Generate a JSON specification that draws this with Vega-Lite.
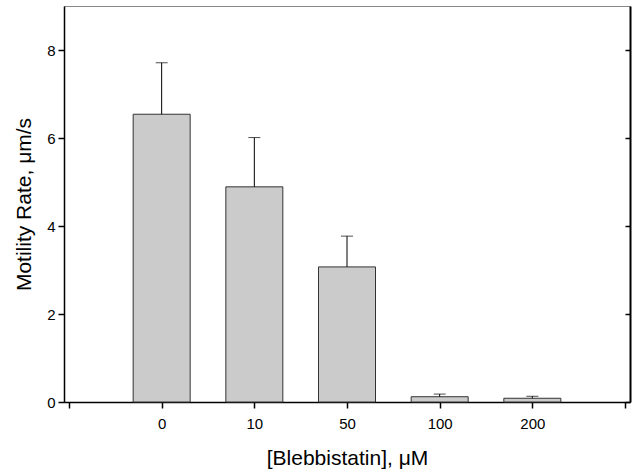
{
  "$schema": "https://vega.github.io/schema/vega-lite/v6.json",
  "width": 566,
  "height": 396,
  "autosize": "none",
  "padding": {"left": 64, "top": 6, "right": 5, "bottom": 73},
  "config": {
    "font": "Liberation Sans",
    "view": {"stroke": "#888", "strokeWidth": 1},
    "axis": {"grid": false, "domainColor": "#000", "tickColor": "#000", "labelColor": "#000", "titleColor": "#000", "labelFont": "Liberation Sans", "titleFont": "Liberation Sans", "titleFontWeight": "normal"}
  },
  "data": {
    "values": [
      {"pos": 0, "conc": "0", "rate": 6.54, "upper": 7.71},
      {"pos": 1, "conc": "10", "rate": 4.89, "upper": 6.01},
      {"pos": 2, "conc": "50", "rate": 3.07, "upper": 3.77},
      {"pos": 3, "conc": "100", "rate": 0.12, "upper": 0.18},
      {"pos": 4, "conc": "200", "rate": 0.085, "upper": 0.13}
    ]
  },
  "layer": [
    {
      "mark": {"type": "bar", "size": 57, "fill": "#cbcbcb", "stroke": "#333", "strokeWidth": 1},
      "encoding": {
        "x": {"field": "pos", "type": "quantitative", "scale": {"domain": [-1, 5], "nice": false, "zero": false},
          "axis": {"values": [-1, 0, 1, 2, 3, 4, 5], "labelExpr": "datum.value==0?'0':datum.value==1?'10':datum.value==2?'50':datum.value==3?'100':datum.value==4?'200':''", "title": "[Blebbistatin], μM", "labelFontSize": 15, "titleFontSize": 21, "tickSize": 6, "labelPadding": 8, "titlePadding": 16, "domainWidth": 1.5, "tickWidth": 1.5}},
        "y": {"field": "rate", "type": "quantitative", "scale": {"domain": [0, 9], "nice": false},
          "axis": {"values": [0, 2, 4, 6, 8], "title": "Motility Rate, μm/s", "labelFontSize": 15, "titleFontSize": 21, "tickSize": 6, "labelPadding": 3, "titlePadding": 12, "domainWidth": 1.5, "tickWidth": 1.5}}
      }
    },
    {
      "mark": {"type": "rule", "color": "#000", "strokeWidth": 1},
      "encoding": {
        "x": {"field": "pos", "type": "quantitative"},
        "y": {"field": "rate", "type": "quantitative", "axis": null},
        "y2": {"field": "upper"}
      }
    },
    {
      "mark": {"type": "tick", "orient": "horizontal", "size": 12, "thickness": 1, "color": "#000"},
      "encoding": {
        "x": {"field": "pos", "type": "quantitative"},
        "y": {"field": "upper", "type": "quantitative", "axis": {"orient": "right", "values": [0, 2, 4, 6, 8], "labels": false, "title": null, "tickSize": -5, "domainWidth": 2, "tickWidth": 1.5}}
      }
    }
  ],
  "resolve": {"axis": {"y": "independent"}}
}
